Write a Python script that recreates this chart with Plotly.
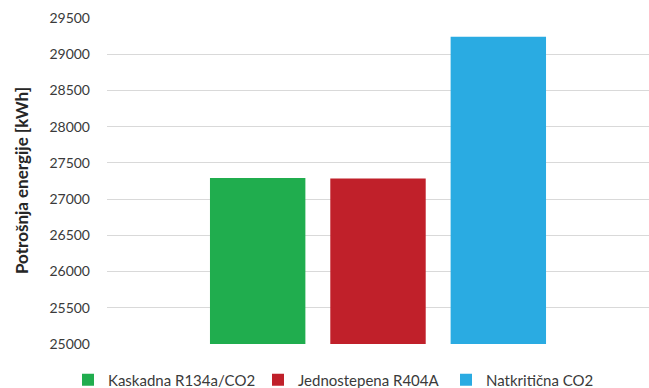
import plotly.graph_objects as go

# Annual energy consumption per refrigeration system
systems = ["Kaskadna R134a/CO2", "Jednostepena R404A", "Natkritična CO2"]
energy_kwh = [27290, 27285, 29240]
colors = ["#20ad4e", "#c0202a", "#2aabe2"]

y_ticks = [25000, 25500, 26000, 26500, 27000, 27500, 28000, 28500, 29000, 29500]
y_title = "Potrošnja energije [kWh]"

# one legend box per system so the entries sit in a single row
legend_ids = ["legend", "legend2", "legend3"]
legend_left_px = [68, 258, 446]

font_family = "Lato, 'Open Sans', sans-serif"

fig = go.Figure()
for name, val, col, lid in zip(systems, energy_kwh, colors, legend_ids):
    fig.add_trace(go.Bar(
        x=[""], y=[val], name=name, legend=lid,
        marker=dict(color=col, line=dict(width=0)),
    ))

legend_style = dict(
    orientation="h",
    xanchor="left", xref="container",
    y=(388 - 380) / 388, yanchor="middle", yref="container",
    itemwidth=30,
    font=dict(family=font_family, size=15, color="#3a3a3a"),
    bgcolor="rgba(0,0,0,0)",
)
legends = {lid: dict(legend_style, x=px / 649)
           for lid, px in zip(legend_ids, legend_left_px)}

fig.update_layout(
    width=649, height=388,
    margin=dict(l=107, r=0, t=18, b=44, autoexpand=False),
    paper_bgcolor="white",
    plot_bgcolor="white",
    barmode="group",
    bargap=0.334,
    bargroupgap=0.207,
    font=dict(family=font_family, size=14, color="#404040"),
    xaxis=dict(showticklabels=False, showgrid=False, zeroline=False,
               showline=False, ticks=""),
    yaxis=dict(
        range=[25000, 29500],
        tickvals=y_ticks,
        ticktext=[str(v) for v in y_ticks],
        showgrid=True, gridcolor="#d9d9d9", gridwidth=1,
        zeroline=False, showline=False, ticks="",
        ticklabelstandoff=16,
        tickfont=dict(size=14, color="#3a3a3a"),
    ),
    showlegend=True,
    annotations=[dict(
        text="<b>" + y_title + "</b>",
        xref="paper", yref="paper",
        x=-(107 - 21) / 542, y=(344 - 181) / 326,
        xanchor="center", yanchor="middle",
        textangle=-90, showarrow=False,
        font=dict(family=font_family, size=17, color="#262626"),
    )],
    **legends,
)

fig.write_html("out.html")
